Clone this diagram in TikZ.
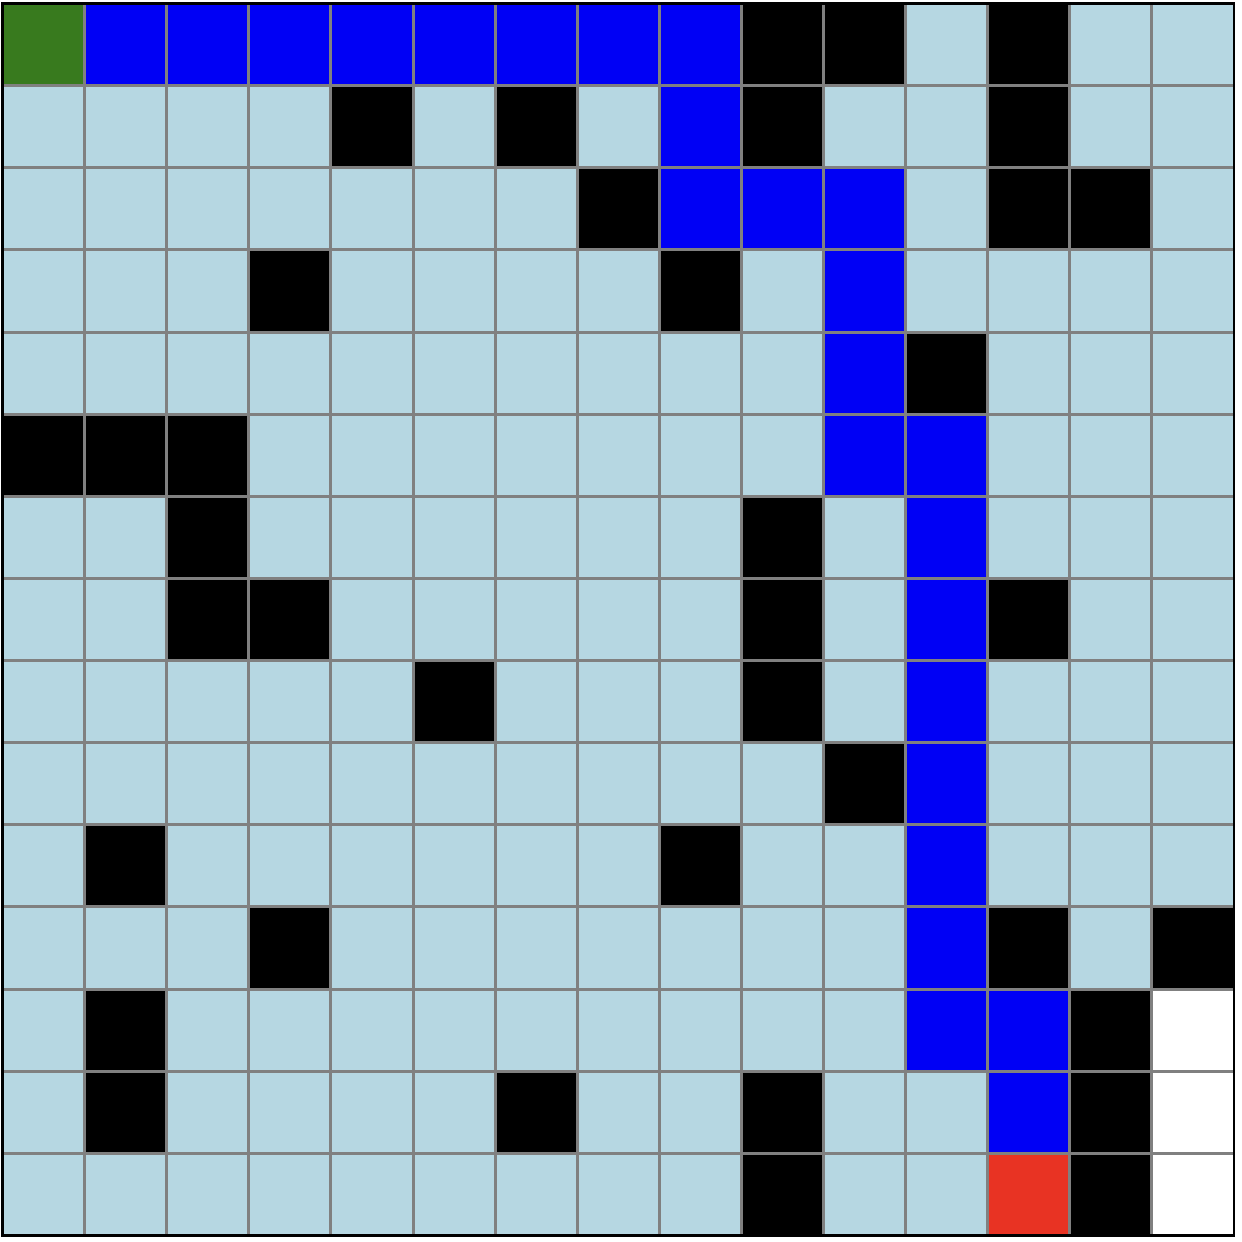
\documentclass[tikz,border=0pt]{standalone}
\definecolor{lb}{RGB}{182,215,226}
\definecolor{gr}{RGB}{56,122,30}
\definecolor{rd}{RGB}{232,51,35}
\definecolor{bl}{RGB}{0,0,245}
\definecolor{gl}{RGB}{128,128,128}
\begin{document}
\begin{tikzpicture}[x=1pt,y=-1pt]
\useasboundingbox (0,0) rectangle (1242,1242);
\fill[white] (0,0) rectangle (1242,1242);
\def\X{2.5}\def\Y{3.5}\def\W{82.1}\def\H{82.13}
\fill[lb] (\X,\Y) rectangle ({\X+15*\W},{\Y+15*\H});
\foreach \r/\c in {0/9,0/10,0/12,1/4,1/6,1/9,1/12,2/7,2/12,2/13,3/3,3/8,4/11,5/0,5/1,5/2,6/2,6/9,7/2,7/3,7/9,7/12,8/5,8/9,9/10,10/1,10/8,11/3,11/12,11/14,12/1,12/13,13/1,13/6,13/9,13/13,14/9,14/13}
  \fill[black] ({\X+\c*\W},{\Y+\r*\H}) rectangle ++(\W,\H);
\foreach \r/\c in {0/1,0/2,0/3,0/4,0/5,0/6,0/7,0/8,1/8,2/8,2/9,2/10,3/10,4/10,5/10,5/11,6/11,7/11,8/11,9/11,10/11,11/11,12/11,12/12,13/12}
  \fill[bl] ({\X+\c*\W},{\Y+\r*\H}) rectangle ++(\W,\H);
\fill[gr] (\X,\Y) rectangle ++(\W,\H);
\fill[rd] ({\X+12*\W},{\Y+14*\H}) rectangle ++(\W,\H);
\foreach \r in {12,13,14}
  \fill[white] ({\X+14*\W},{\Y+\r*\H}) rectangle ++(\W,\H);
\foreach \i in {1,...,14} {
  \draw[gl,line width=3pt] ({\X+\i*\W},\Y) -- ({\X+\i*\W},{\Y+15*\H});
  \draw[gl,line width=3pt] (\X,{\Y+\i*\H}) -- ({\X+15*\W},{\Y+\i*\H});
}
\draw[black,line width=2.5pt] (\X,\Y) rectangle ({\X+15*\W},{\Y+15*\H});
\end{tikzpicture}
\end{document}
